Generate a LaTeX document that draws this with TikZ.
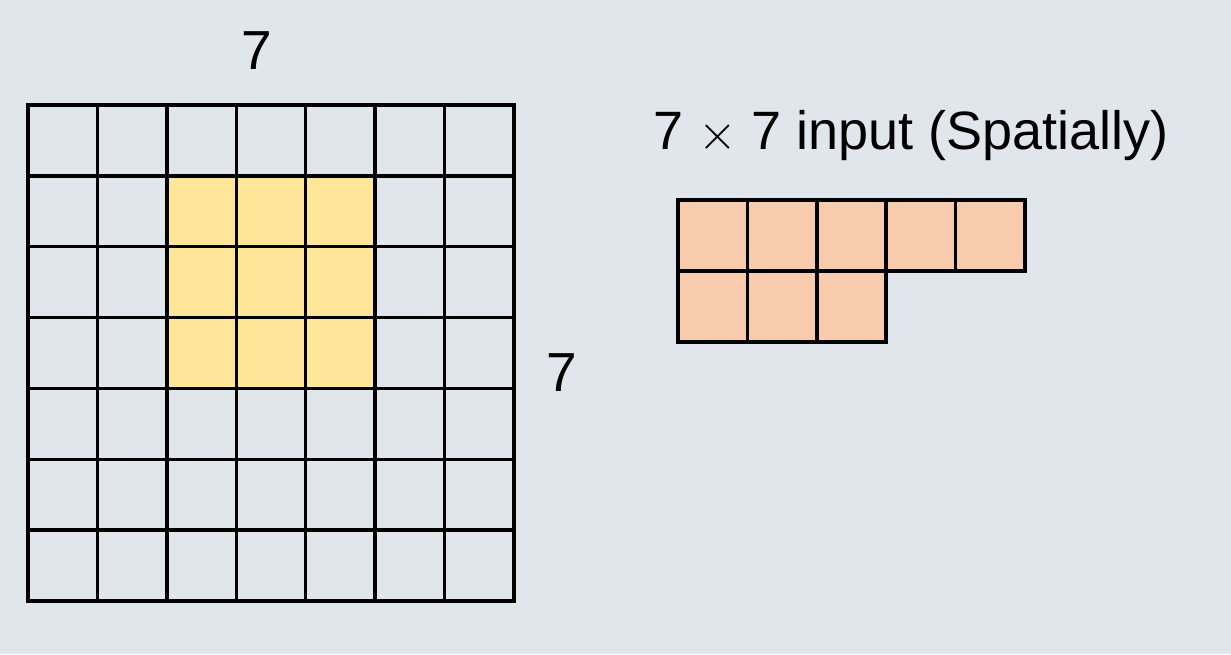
\documentclass[tikz,border=0pt]{standalone}
\usepackage{fontspec}
\setmainfont{Liberation Sans}
\definecolor{bggrey}{HTML}{E1E5EC}
\definecolor{kernelyellow}{HTML}{FFE699}
\definecolor{patchorange}{HTML}{F8CBAD}
\begin{document}
\begin{tikzpicture}[x=0.5pt,y=-0.5pt]
        \tikzstyle{every node}+=[inner sep=0pt]
        \tikzstyle{gridline}=[black,line width=1.75pt,line cap=rect]
        \tikzstyle{label}=[font=\fontsize{27.5pt}{33pt}\selectfont,anchor=base]
        \fill [bggrey] (0,0) rectangle (1231,654);
        \useasboundingbox (0,0) rectangle (1231,654);
        % 3x3 window
        \fill [kernelyellow] (166.9,175.9) rectangle (375.1,388.4);
        % 7x7 grid
        \draw [gridline] (28,105) -- (28,601);
        \draw [gridline] (97.4,105) -- (97.4,601);
        \draw [gridline] (166.9,105) -- (166.9,601);
        \draw [gridline] (236.3,105) -- (236.3,601);
        \draw [gridline] (305.7,105) -- (305.7,601);
        \draw [gridline] (375.1,105) -- (375.1,601);
        \draw [gridline] (444.6,105) -- (444.6,601);
        \draw [gridline] (514,105) -- (514,601);
        \draw [gridline] (28,105) -- (514,105);
        \draw [gridline] (28,175.9) -- (514,175.9);
        \draw [gridline] (28,246.7) -- (514,246.7);
        \draw [gridline] (28,317.6) -- (514,317.6);
        \draw [gridline] (28,388.4) -- (514,388.4);
        \draw [gridline] (28,459.3) -- (514,459.3);
        \draw [gridline] (28,530.1) -- (514,530.1);
        \draw [gridline] (28,601) -- (514,601);
        \draw (257,69.3) node [label] (widthlabel) {7};
        \draw (562,391.7) node [label] (heightlabel) {7};
        % flattened row
        \fill [patchorange] (678,200) rectangle (1025,271);
        \fill [patchorange] (678,271) rectangle (886.2,342);
        \draw [gridline] (678,200) -- (1025,200);
        \draw [gridline] (678,271) -- (1025,271);
        \draw [gridline] (678,342) -- (886.2,342);
        \draw [gridline] (678,200) -- (678,342);
        \draw [gridline] (747.4,200) -- (747.4,342);
        \draw [gridline] (816.8,200) -- (816.8,342);
        \draw [gridline] (886.2,200) -- (886.2,342);
        \draw [gridline] (955.6,200) -- (955.6,271);
        \draw [gridline] (1025,200) -- (1025,271);
        \draw (911,149.5) node [label,font=\fontsize{27pt}{32pt}\selectfont] (inputlabel) {7 $\times$ 7 input (Spatially)};
\end{tikzpicture}
\end{document}
